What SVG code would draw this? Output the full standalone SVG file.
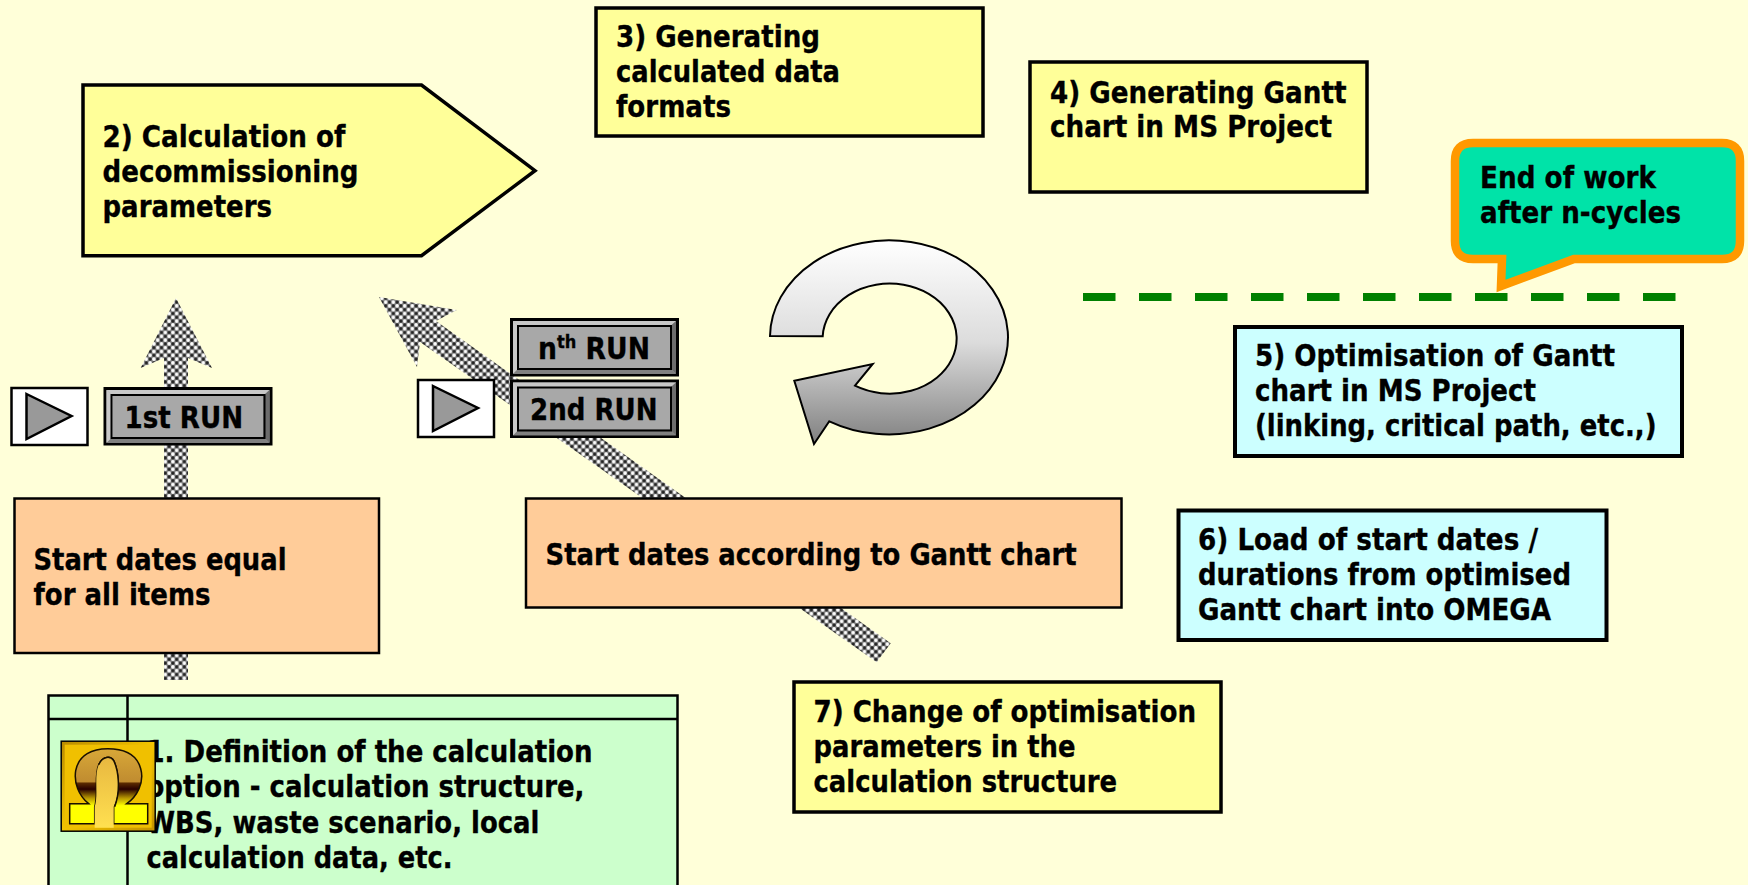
<svg xmlns="http://www.w3.org/2000/svg" xmlns:xlink="http://www.w3.org/1999/xlink" width="1748" height="885" viewBox="0 0 1748 885">
<style>
.t{font-family:"DejaVu Sans","Liberation Sans",sans-serif;font-weight:700;font-size:29.5px;fill:#000;stroke:#000;stroke-width:.35px}
.b{stroke:#000;stroke-width:3.5}
.y{fill:#FFFF99}.o{fill:#FFCC99;stroke-width:2.5}.c{fill:#CCFFFF;stroke-width:4}
.h{fill:url(#hatch)}
</style>
<defs>
<pattern id="hatch" width="7.6" height="7.6" patternUnits="userSpaceOnUse">
<rect width="7.6" height="7.6" fill="#7a7a7a"/>
<circle cx="1.9" cy="1.9" r="1.8" fill="#fff"/><circle cx="5.7" cy="5.7" r="1.8" fill="#fff"/>
<circle cx="5.7" cy="1.9" r="1.6" fill="#222"/><circle cx="1.9" cy="5.7" r="1.6" fill="#222"/>
</pattern>
<linearGradient id="loop" x1="0" y1="0" x2="0" y2="1"><stop offset="0" stop-color="#fff"/><stop offset=".5" stop-color="#dcdcdc"/><stop offset="1" stop-color="#808080"/></linearGradient>
<linearGradient id="gold" x1="0" y1="0" x2="1" y2="1"><stop offset="0" stop-color="#b88a00"/><stop offset=".5" stop-color="#f2c400"/><stop offset="1" stop-color="#c49200"/></linearGradient>
<linearGradient id="om" x1="0" y1="0" x2="0" y2="1"><stop offset="0" stop-color="#d8a838"/><stop offset=".44" stop-color="#c08c30"/><stop offset=".46" stop-color="#5a2a00"/><stop offset=".54" stop-color="#280000"/><stop offset=".66" stop-color="#b89800"/><stop offset=".76" stop-color="#ffff00"/><stop offset="1" stop-color="#ffff00"/></linearGradient>
<linearGradient id="cn" x1="0" y1="0" x2="0" y2="1"><stop offset="0" stop-color="#e8b840"/><stop offset="1" stop-color="#ffe050"/></linearGradient>
<g id="btn">
<rect x="1.5" y="1.5" width="166" height="55.5" fill="#a8a8a8" stroke="#000" stroke-width="3"/>
<polygon points="3,3 166,3 160,8.5 9,8.5" fill="#c8c8c8"/>
<polygon points="3,3 9,8.5 9,50 3,56" fill="#c8c8c8"/>
<polygon points="166,3 166,56 160,50 160,8.5" fill="#6c6c6c"/>
<polygon points="3,56 9,50 160,50 166,56" fill="#808080"/>
<rect x="8" y="8" width="153" height="43" fill="none" stroke="#000" stroke-width="2"/>
</g>
<g id="play">
<rect x="1" y="1" width="76" height="57" fill="#fff" stroke="#000" stroke-width="2.5"/>
<polygon points="16,7 61,29 16,52" fill="#999" stroke="#000" stroke-width="2.5"/>
</g>
</defs>
<rect width="1748" height="885" fill="#FFFFD9"/>
<g id="connectors">
<polygon class="h" points="176,298 212,368 188,358 188,680 164,680 164,358 140.6,368"/>
<polygon class="h" points="379,297 456.7,310 436,321 890.7,643.3 876.7,662.3 420,342 417,367"/>
<line x1="1083" y1="297" x2="1676" y2="297" stroke="#008000" stroke-width="8" stroke-dasharray="32.5 23.5"/>
</g>
<g id="node-3"><rect class="b y" x="596" y="8" width="387" height="128"/>
<text class="t" x="616" y="46.5" textLength="204" lengthAdjust="spacingAndGlyphs">3) Generating</text>
<text class="t" x="616" y="81.8" textLength="224" lengthAdjust="spacingAndGlyphs">calculated data</text>
<text class="t" x="616" y="117" textLength="115" lengthAdjust="spacingAndGlyphs">formats</text></g>
<g id="node-2"><polygon class="b y" points="83,85 421.5,85 535,170.7 421.5,255.7 83,255.7"/>
<text class="t" x="102.5" y="146.7" textLength="243" lengthAdjust="spacingAndGlyphs">2) Calculation of</text>
<text class="t" x="102.5" y="181.7" textLength="256" lengthAdjust="spacingAndGlyphs">decommissioning</text>
<text class="t" x="102.5" y="217" textLength="169.5" lengthAdjust="spacingAndGlyphs">parameters</text></g>
<g id="node-4"><rect class="b y" x="1030" y="62" width="337" height="130"/>
<text class="t" x="1050" y="102.5" textLength="296.5" lengthAdjust="spacingAndGlyphs">4) Generating Gantt</text>
<text class="t" x="1050" y="137" textLength="282" lengthAdjust="spacingAndGlyphs">chart in MS Project</text></g>
<g id="node-end"><path d="M1473,143H1722Q1740,143 1740,161V241Q1740,259 1722,259H1574L1501,286L1502,259H1473Q1455,259 1455,241V161Q1455,143 1473,143Z" fill="#00E3A8" stroke="#FF9900" stroke-width="8.5"/>
<text class="t" x="1480" y="188.3" textLength="176" lengthAdjust="spacingAndGlyphs">End of work</text>
<text class="t" x="1480" y="222.5" textLength="201" lengthAdjust="spacingAndGlyphs">after n-cycles</text></g>
<g id="node-5"><rect class="b c" x="1235" y="327" width="447" height="129"/>
<text class="t" x="1255" y="365.7" textLength="360" lengthAdjust="spacingAndGlyphs">5) Optimisation of Gantt</text>
<text class="t" x="1255" y="400.7" textLength="281" lengthAdjust="spacingAndGlyphs">chart in MS Project</text>
<text class="t" x="1255" y="435.7" textLength="401.5" lengthAdjust="spacingAndGlyphs">(linking, critical path, etc.,)</text></g>
<g id="node-6"><rect class="b c" x="1178.5" y="510.5" width="428" height="129.5"/>
<text class="t" x="1198" y="549.6" textLength="340" lengthAdjust="spacingAndGlyphs">6) Load of start dates /</text>
<text class="t" x="1198" y="585" textLength="373" lengthAdjust="spacingAndGlyphs">durations from optimised</text>
<text class="t" x="1198" y="620" textLength="353" lengthAdjust="spacingAndGlyphs">Gantt chart into OMEGA</text></g>
<g id="node-7"><rect class="b y" x="794" y="682" width="427" height="130"/>
<text class="t" x="813.5" y="722.4" textLength="382.5" lengthAdjust="spacingAndGlyphs">7) Change of optimisation</text>
<text class="t" x="813.5" y="757" textLength="262" lengthAdjust="spacingAndGlyphs">parameters in the</text>
<text class="t" x="813.5" y="792" textLength="303.5" lengthAdjust="spacingAndGlyphs">calculation structure</text></g>
<g id="node-start-1"><rect class="b o" x="14.5" y="498.5" width="364.5" height="154.5"/>
<text class="t" x="33.5" y="569.5" textLength="253" lengthAdjust="spacingAndGlyphs">Start dates equal</text>
<text class="t" x="33.5" y="605" textLength="177" lengthAdjust="spacingAndGlyphs">for all items</text></g>
<g id="node-start-2"><rect class="b o" x="526" y="498.5" width="595.5" height="109"/>
<text class="t" x="545.5" y="565" textLength="531" lengthAdjust="spacingAndGlyphs">Start dates according to Gantt chart</text></g>
<g id="node-1"><rect x="48.5" y="695.5" width="629" height="195" fill="#CCFFCC" stroke="#000" stroke-width="2.5"/>
<path d="M48,719H677.5M127.5,695V885" fill="none" stroke="#000" stroke-width="2.5"/>
<text class="t" x="146.5" y="761.5" textLength="446" lengthAdjust="spacingAndGlyphs">1. Definition of the calculation</text>
<text class="t" x="146.5" y="796.7" textLength="438" lengthAdjust="spacingAndGlyphs">option - calculation structure,</text>
<text class="t" x="146.5" y="832.5" textLength="393" lengthAdjust="spacingAndGlyphs">WBS, waste scenario, local</text>
<text class="t" x="146.5" y="868" textLength="306" lengthAdjust="spacingAndGlyphs">calculation data, etc.</text></g>
<g id="omega-icon" transform="translate(60.7,740.7)">
<rect x=".5" y=".5" width="94" height="90" fill="url(#gold)" stroke="#000" stroke-width="1.5"/>
<rect x="4" y="4" width="87" height="83" fill="#f0c000"/>
<path d="M9,63H28C18,55 13,42 15,30C18,14 32,8 47,8C62,8 76,13 80,28C84,42 76,56 66,63H87V83H53V66C60,52 58,30 53,20C50,15 42,15 38,24C33,36 38,54 34,66V83H9Z" fill="url(#om)" stroke="#1a1000" stroke-width="1.5"/>
<path d="M38,24C42,15 50,15 53,20C58,30 60,52 53,66V87H34V66C38,54 33,36 38,24Z" fill="url(#cn)"/>
<path d="M38,24C42,15 50,15 53,20C58,30 60,50 54,66" fill="none" stroke="#1a1000" stroke-width="1.5"/>
</g>
<g id="play-1"><use xlink:href="#play" href="#play" x="10.5" y="387"/></g>
<g id="run-1"><use xlink:href="#btn" href="#btn" x="103.5" y="387"/>
<text class="t" x="124.5" y="428" textLength="118.5" lengthAdjust="spacingAndGlyphs">1st RUN</text></g>
<g id="play-2"><use xlink:href="#play" href="#play" x="417" y="379"/></g>
<g id="run-n"><use xlink:href="#btn" href="#btn" x="510" y="318"/>
<text class="t" x="538" y="359" textLength="112" lengthAdjust="spacingAndGlyphs">n<tspan font-size="18" dy="-11">th</tspan><tspan dy="11"> RUN</tspan></text></g>
<g id="run-2"><use xlink:href="#btn" href="#btn" x="510" y="379.5"/>
<text class="t" x="530" y="420" textLength="127.5" lengthAdjust="spacingAndGlyphs">2nd RUN</text></g>
<g id="loop-arrow"><path d="M770,336A119,97 0 1 1 829.3,421.3L814,444L794.3,380.7L872.7,364L855,385.7A67,55 0 1 0 822.7,336.3Z" fill="url(#loop)" stroke="#000" stroke-width="2"/></g>
</svg>
